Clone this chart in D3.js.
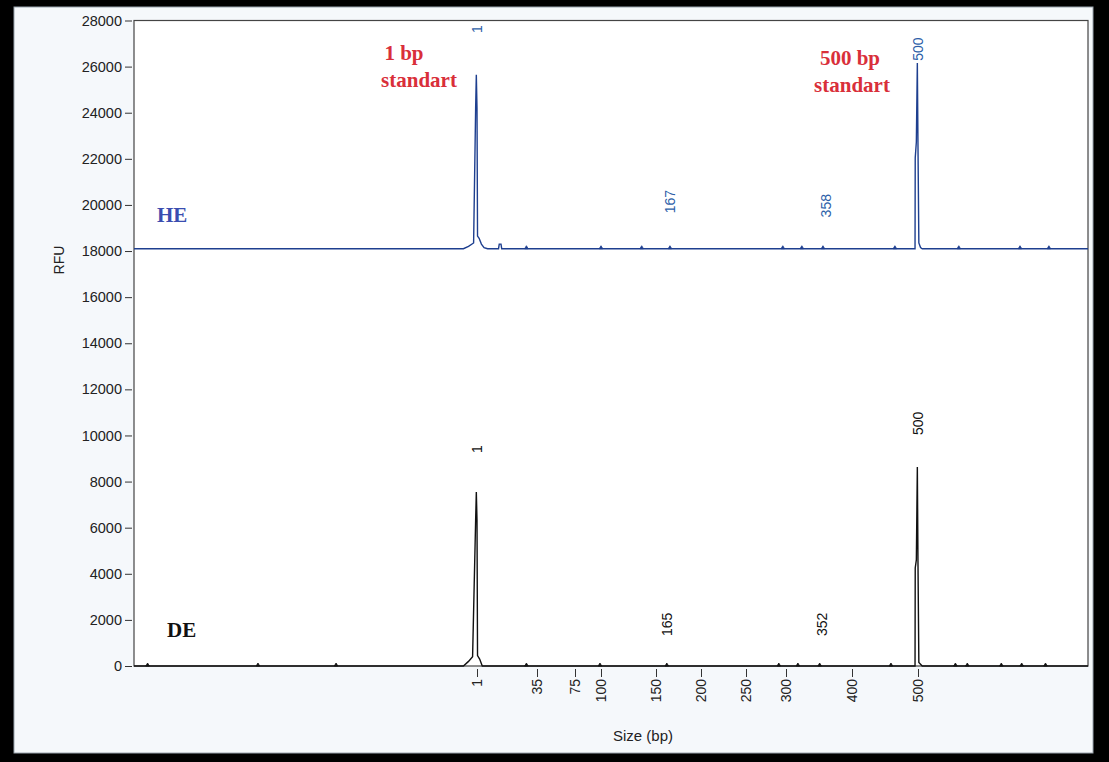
<!DOCTYPE html>
<html>
<head>
<meta charset="utf-8">
<script src="https://cdn.jsdelivr.net/npm/d3@7"></script>
<style>
  html, body { margin: 0; padding: 0; background: #000; }
  #chart { width: 1109px; height: 762px; }
  text { font-family: "Liberation Sans", Arial, sans-serif; }
</style>
</head>
<body>
<div id="chart"></div>
<script>
// axis ticks
const rfuTicks = [0, 2000, 4000, 6000, 8000, 10000, 12000, 14000, 16000, 18000, 20000, 22000, 24000, 26000, 28000];
const sizeTicks = [1, 35, 75, 100, 150, 200, 250, 300, 400, 500];

// HE channel: [size (bp), RFU]
const heTrace = [
    [-100, 18100], [-3, 18100], [-1.5, 18200], [0, 18350], [0.6, 24200], [0.8, 25650], [1.0, 24200],
    [1.3, 18650], [2.2, 18550], [3.5, 18300], [5, 18150], [7, 18100],
    [13.2, 18100], [13.6, 18300], [14.6, 18300], [15, 18100],
    [495.5, 18100], [495.8, 22040], [497.5, 22730], [499, 26160], [500, 22500], [500.5, 18350],
    [501.5, 18150], [502.5, 18100], [600, 18100]
];
const heMinorPeaks = [29, 100, 137, 165.5, 296, 324, 356, 465, 524, 560, 577];
const heLabels = [
    {size: 1, text: "1", rfu: 27460},
    {size: 165.5, text: "167", rfu: 19640},
    {size: 361.5, text: "358", rfu: 19460},
    {size: 500, text: "500", rfu: 26250}
];

// DE channel: [size (bp), RFU]
const deTrace = [
    [-100, 0], [-3, 0], [-1.5, 200], [-0.3, 400], [0.6, 6330], [0.8, 7550], [1.0, 6330],
    [1.3, 450], [2.5, 300], [4, 0],
    [495.5, 0], [495.8, 4250], [497.5, 4600], [499, 8630], [500, 4400], [500.5, 150],
    [501.5, 80], [502.5, 0], [600, 0]
];
const deMinorPeaks = [-96, -63.5, -40.5, 29, 99, 162, 291, 318, 351, 459, 522, 529, 549, 561, 575];
const deLabels = [
    {size: 1, text: "1", rfu: 9240},
    {size: 162, text: "165", rfu: 1300},
    {size: 354.5, text: "352", rfu: 1300},
    {size: 500, text: "500", rfu: 10020}
];

class ElectropherogramVis {
    constructor(parentElement) {
        this.parentElement = parentElement
        this.initVis()
    }

    initVis() {
        let vis = this

        vis.width = 1109
        vis.height = 762
        vis.plot = {left: 134, right: 1088, top: 20.5, bottom: 666}

        vis.svg = d3.select("#" + vis.parentElement).append("svg")
            .attr("width", vis.width)
            .attr("height", vis.height)

        // window frame
        vis.svg.append("rect")
            .attr("width", vis.width).attr("height", vis.height)
            .attr("fill", "#000")
        vis.svg.append("rect")
            .attr("x", 14).attr("y", 7)
            .attr("width", 1079).attr("height", 746)
            .attr("fill", "#f5f8fb")
            .attr("stroke", "#9aa4ad")
        vis.svg.append("rect")
            .attr("x", vis.plot.left).attr("y", vis.plot.top)
            .attr("width", vis.plot.right - vis.plot.left)
            .attr("height", vis.plot.bottom - vis.plot.top)
            .attr("fill", "#fff")
            .attr("stroke", "#444")
            .attr("stroke-width", 1.2)

        // sizing scale is piecewise (bp are not evenly spaced on screen)
        vis.x = d3.scaleLinear()
            .domain([-100, 1, 35, 75, 100, 150, 200, 250, 300, 400, 500, 600])
            .range([134, 477, 537, 575, 601, 656, 701, 746, 786, 852, 918, 1088])

        vis.y = d3.scaleLinear()
            .domain([0, 28000])
            .range([vis.plot.bottom, vis.plot.top])

        vis.line = d3.line()
            .x(d => vis.x(d[0]))
            .y(d => vis.y(d[1]))

        vis.updateVis()
    }

    updateVis() {
        let vis = this

        // y axis
        let yAxis = vis.svg.append("g")
            .attr("transform", `translate(${vis.plot.left - 2},0)`)
            .call(d3.axisLeft(vis.y).tickValues(rfuTicks).tickSize(7).tickPadding(3).tickFormat(d => d))
        yAxis.select(".domain").remove()
        yAxis.selectAll("line").attr("stroke", "#333")
        yAxis.selectAll("text")
            .style("font-size", "14.5px")
            .attr("fill", "#222")

        // x axis with rotated labels
        let xAxis = vis.svg.append("g")
            .attr("transform", `translate(0,${vis.plot.bottom + 3})`)
            .call(d3.axisBottom(vis.x).tickValues(sizeTicks).tickSize(8).tickFormat(d => d))
        xAxis.select(".domain").remove()
        xAxis.selectAll("line").attr("stroke", "#333")
        xAxis.selectAll("text")
            .attr("transform", "rotate(-90)")
            .attr("text-anchor", "end")
            .attr("x", -10)
            .attr("y", 0)
            .attr("dy", "0.35em")
            .style("font-size", "14px")
            .attr("fill", "#222")

        vis.svg.append("text")
            .attr("x", 643).attr("y", 741)
            .attr("text-anchor", "middle")
            .style("font-size", "15px")
            .attr("fill", "#222")
            .text("Size (bp)")

        vis.svg.append("text")
            .attr("transform", "translate(64,260) rotate(-90)")
            .attr("text-anchor", "middle")
            .style("font-size", "14px")
            .attr("fill", "#222")
            .text("RFU")

        vis.drawChannel(heTrace, heMinorPeaks, heLabels, 18100, "#1e3f8f", "#2d5fa8")
        vis.drawChannel(deTrace, deMinorPeaks, deLabels, 0, "#111", "#111")

        // channel names
        vis.svg.append("text")
            .attr("x", 157).attr("y", 222)
            .style("font-family", "'Liberation Serif', 'Times New Roman', serif")
            .style("font-weight", "bold")
            .style("font-size", "21px")
            .attr("fill", "#3a4db0")
            .text("HE")
        vis.svg.append("text")
            .attr("x", 167).attr("y", 637)
            .style("font-family", "'Liberation Serif', 'Times New Roman', serif")
            .style("font-weight", "bold")
            .style("font-size", "21px")
            .attr("fill", "#111")
            .text("DE")

        // red notes on the sizing standards
        let notes = [
            {text: "1 bp", cx: 404, y: 60},
            {text: "standart", cx: 419, y: 87},
            {text: "500 bp", cx: 850, y: 65},
            {text: "standart", cx: 852, y: 92}
        ]
        vis.svg.selectAll(".note").data(notes).enter()
            .append("text")
            .attr("class", "note")
            .attr("x", d => d.cx).attr("y", d => d.y)
            .attr("text-anchor", "middle")
            .style("font-family", "'Liberation Serif', 'Times New Roman', serif")
            .style("font-weight", "bold")
            .style("font-size", "21px")
            .attr("fill", "#d92f3a")
            .text(d => d.text)
    }

    drawChannel(trace, minor, labels, base, color, labelColor) {
        let vis = this
        let g = vis.svg.append("g")

        g.append("path")
            .datum(trace)
            .attr("d", vis.line)
            .attr("fill", "none")
            .attr("stroke", color)
            .attr("stroke-width", 1.4)
            .attr("stroke-linejoin", "miter")

        g.selectAll(".blip").data(minor).enter()
            .append("path")
            .attr("class", "blip")
            .attr("d", d => {
                let cx = vis.x(d), y0 = vis.y(base), y1 = vis.y(base + 130)
                return `M${cx - 1.8},${y0}L${cx},${y1}L${cx + 1.8},${y0}Z`
            })
            .attr("fill", color)
            .attr("stroke", color)
            .attr("stroke-width", 0.8)

        g.selectAll(".plabel").data(labels).enter()
            .append("text")
            .attr("class", "plabel")
            .attr("transform", d => `translate(${vis.x(d.size)},${vis.y(d.rfu)}) rotate(-90)`)
            .attr("dy", "0.35em")
            .attr("text-anchor", "start")
            .style("font-size", "14px")
            .attr("fill", labelColor)
            .text(d => d.text)
    }
}

new ElectropherogramVis("chart")
</script>
</body>
</html>
